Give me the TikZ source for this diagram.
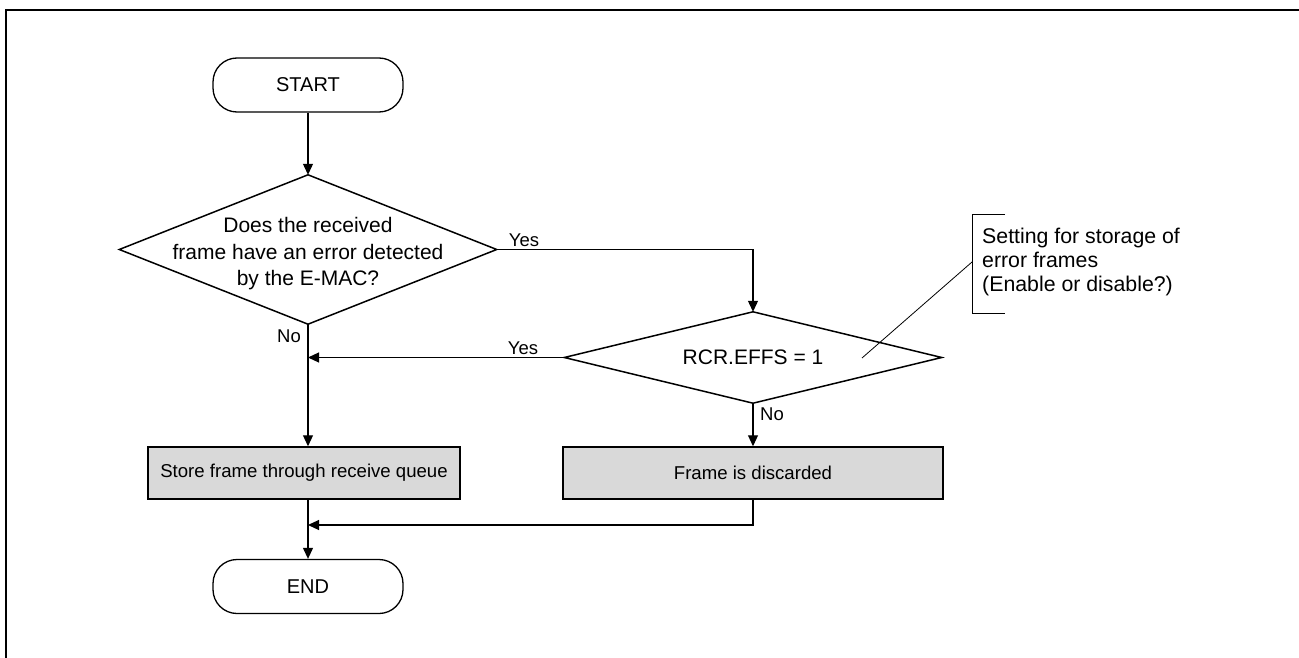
\documentclass[tikz,border=0pt]{standalone}
\usepackage{fontspec}
\setmainfont{Liberation Sans}
\usetikzlibrary{arrows.meta}
\definecolor{boxgray}{HTML}{D9D9D9}
\tikzset{
  txt/.style={font=\fontsize{20}{25}\selectfont},
  term/.style={txt, draw, line width=1.3pt, rounded corners=24pt, minimum width=190pt, minimum height=54pt, inner sep=0pt},
  dia/.style={font=\fontsize{21}{26.5}\selectfont, minimum width=377pt, inner sep=0pt, align=center},
  diaedge/.style={line width=1.5pt, line join=miter},
  proc/.style={font=\fontsize{18.6}{22}\selectfont, draw, line width=1.5pt, fill=boxgray, minimum height=52pt, inner sep=0pt},
  conn/.style={line width=1.1pt, -{Triangle[length=11pt,width=10pt]}},
  plain/.style={line width=1pt},
  lbl/.style={font=\fontsize{18.5}{20}\selectfont, inner sep=1pt},
}
\begin{document}
\begin{tikzpicture}[x=1pt,y=-1pt]
\useasboundingbox (0,0) rectangle (1299,658);
% outer frame
\draw[line width=2.5pt] (6,662) -- (6,10) -- (1303,10);

% nodes
\node[term] (start) at (308,85) {START};
\node[dia, minimum height=149pt] (d1) at (308,249.5) {};
\node[dia, anchor=center] (d1text) at (308,254) {Does the received\\frame have an error detected\\by the E-MAC?};
\draw[diaedge] (d1.north) -- (d1.east) -- (d1.south) -- (d1.west) -- cycle;
\node[dia, minimum height=91pt] (d2) at (753,357.5) {RCR.EFFS = 1};
\draw[diaedge] (d2.north) -- (d2.east) -- (d2.south) -- (d2.west) -- cycle;
\node[proc, minimum width=312pt] (box1) at (304,473) {Store frame through receive queue};
\node[proc, minimum width=380pt] (box2) at (753,473) {Frame is discarded};
\node[term] (endn) at (308,586.5) {END};

% labels
\node[lbl, anchor=south west] (yes1) at ([xshift=11pt,yshift=2pt]d1.east) {Yes};
\node[lbl, anchor=south east] (yes2) at ([xshift=-25pt,yshift=2pt]d2.west) {Yes};
\node[lbl, anchor=north east] (no1) at ([xshift=-6pt,yshift=-4pt]d1.south) {No};
\node[lbl, anchor=north west] (no2) at ([xshift=6pt,yshift=-3pt]d2.south) {No};

% connectors
\coordinate (m) at (308,525);
\draw[conn] (start.south) -- (d1.north);
\draw[conn] (d1.east) -| (d2.north);
\draw[conn] (d2.west) -- (d2.west -| d1.south);
\draw[conn] (d1.south) -- (d1.south |- box1.north);
\draw[conn] (d2.south) -- (d2.south |- box2.north);
\draw[conn] (d1.south |- box1.south) -- (endn.north);
\draw[conn] (d2.south |- box2.south) |- (m);

% annotation
\node[align=left, anchor=west, font=\fontsize{21.3}{24}\selectfont, inner sep=0pt] (note) at (982,262) {Setting for storage of\\error frames\\(Enable or disable?)};
\coordinate (brtop) at (1005,214);
\coordinate (brbot) at (1005,313);
\coordinate (brmid) at (972,262);
\coordinate (lead) at (862,358);
\draw[plain] (brtop) -- (972,214) -- (972,313) -- (brbot);
\draw[line width=0.8pt] (lead) -- (brmid);
\end{tikzpicture}
\end{document}
